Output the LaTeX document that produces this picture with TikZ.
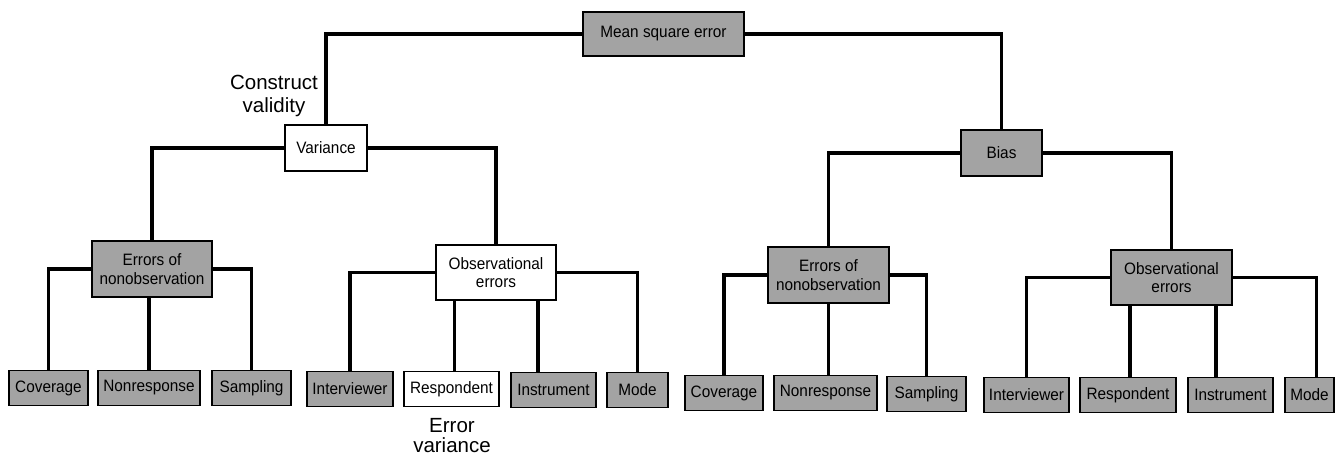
\documentclass[tikz,border=0pt]{standalone}
\usepackage{fontspec}
\setmainfont{Liberation Sans}
\newfontfamily\boxfont[FakeStretch=0.93]{Liberation Sans}
\begin{document}
\begin{tikzpicture}[x=1pt,y=-1pt,
  box/.style={draw=black, line width=1.7pt, inner sep=0pt, align=center,
    font=\boxfont\fontsize{16.5}{18.5}\selectfont},
  gbox/.style={box, fill=black!36},
  wbox/.style={box, fill=white},
  conn/.style={line width=3.2pt},
  lbl/.style={inner sep=0pt, align=center, anchor=north}]
\useasboundingbox (0,0) rectangle (1335,455);
% top levels
\node[gbox, minimum width=161, minimum height=44] (mse) at (663.5,34) {Mean square error};
\node[wbox, minimum width=82, minimum height=46] (var) at (326,148) {Variance};
\node[gbox, minimum width=81, minimum height=46] (bias) at (1001.5,153) {Bias};
% second levels
\node[gbox, minimum width=120, minimum height=56] (enoL) at (152,269) {Errors of\\nonobservation};
\node[wbox, minimum width=120, minimum height=55] (obsL) at (496,272.5) {Observational\\errors};
\node[gbox, minimum width=121, minimum height=56] (enoR) at (828.5,275) {Errors of\\nonobservation};
\node[gbox, minimum width=121, minimum height=55] (obsR) at (1171.5,277.5) {Observational\\errors};
% bottom left
\node[gbox, minimum width=79, minimum height=35] (covL) at (48.5,388) {Coverage};
\node[gbox, minimum width=102, minimum height=35] (nonL) at (149,388) {Nonresponse};
\node[gbox, minimum width=79, minimum height=35] (samL) at (251.5,388) {Sampling};
\node[gbox, minimum width=86, minimum height=35] (intL) at (350,389) {Interviewer};
\node[wbox, minimum width=95, minimum height=35] (resL) at (451.5,389) {Respondent};
\node[gbox, minimum width=85, minimum height=35] (insL) at (553.5,390) {Instrument};
\node[gbox, minimum width=61, minimum height=35] (modL) at (637.5,390) {Mode};
% bottom right
\node[gbox, minimum width=78, minimum height=35] (covR) at (724,393) {Coverage};
\node[gbox, minimum width=103, minimum height=35] (nonR) at (825.5,393) {Nonresponse};
\node[gbox, minimum width=79, minimum height=35] (samR) at (926.5,394) {Sampling};
\node[gbox, minimum width=85, minimum height=35] (intR) at (1026.5,395) {Interviewer};
\node[gbox, minimum width=96, minimum height=35] (resR) at (1128,395) {Respondent};
\node[gbox, minimum width=85, minimum height=35] (insR) at (1230.5,395) {Instrument};
\node[gbox, minimum width=49, minimum height=35] (modR) at (1309.5,395) {Mode};
% labels
\node[lbl, font=\fontsize{20.5}{23}\selectfont] (cval) at (274,75) {Construct\\validity};
\node[lbl, font=\fontsize{20.5}{20}\selectfont] (evar) at (452,418) {Error\\variance};
% connectors
\draw[conn] (mse.west) -| (var.north);
\draw[conn] (mse.east) -| (bias.north);
\draw[conn] (var.west) -| (enoL.north);
\draw[conn] (var.east) -| (obsL.north);
\draw[conn] (bias.west) -| (enoR.north);
\draw[conn] (bias.east) -| (obsR.north);
\draw[conn] (enoL.west) -| (covL.north);
\draw[conn] (enoL.east) -| (samL.north);
\draw[conn] (nonL.north) -- (nonL.north |- enoL.south);
\draw[conn] (obsL.west) -| (intL.north);
\draw[conn] (obsL.east) -| (modL.north);
\draw[conn] ([xshift=3pt]resL.north) -- ([xshift=3pt]resL.north |- obsL.south);
\draw[conn] ([xshift=-15.5pt]insL.north) -- ([xshift=-15.5pt]insL.north |- obsL.south);
\draw[conn] (enoR.west) -| (covR.north);
\draw[conn] (enoR.east) -| (samR.north);
\draw[conn] ([xshift=3pt]nonR.north) -- ([xshift=3pt]nonR.north |- enoR.south);
\draw[conn] (obsR.west) -| (intR.north);
\draw[conn] (obsR.east) -| ([xshift=7pt]modR.north);
\draw[conn] ([xshift=2pt]resR.north) -- ([xshift=2pt]resR.north |- obsR.south);
\draw[conn] ([xshift=-14.5pt]insR.north) -- ([xshift=-14.5pt]insR.north |- obsR.south);
\end{tikzpicture}
\end{document}
